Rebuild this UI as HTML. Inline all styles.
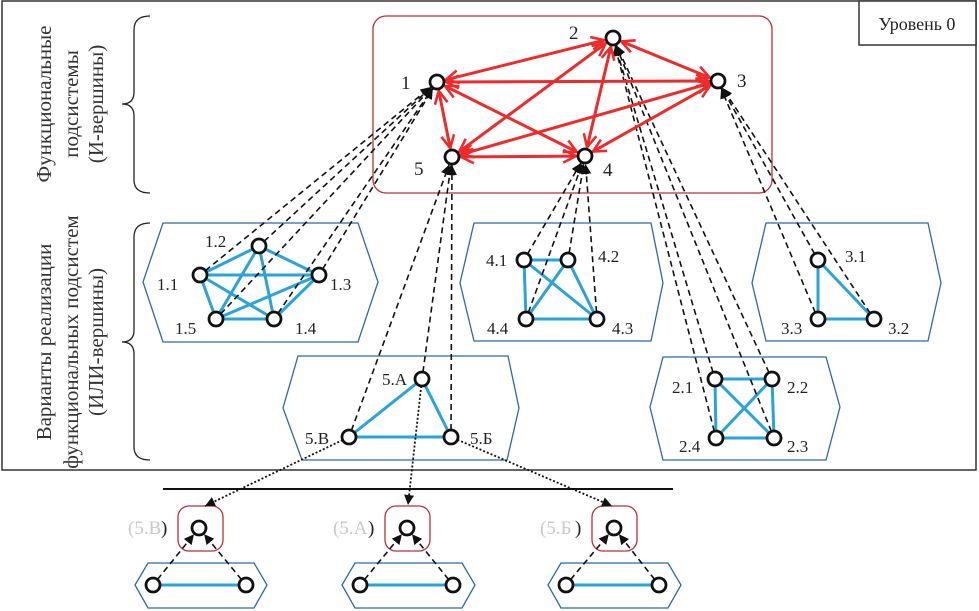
<!DOCTYPE html>
<html><head><meta charset="utf-8"><style>
html,body{margin:0;padding:0;background:#fff;}
svg{display:block;font-family:"Liberation Serif",serif;}
</style></head><body>
<svg id="s" width="979" height="611" viewBox="0 0 979 611" xmlns="http://www.w3.org/2000/svg">
<defs>
<marker id="ra" viewBox="0 0 14 14" refX="13" refY="7" markerWidth="15" markerHeight="15" markerUnits="userSpaceOnUse" orient="auto-start-reverse">
<path d="M1,1 L13,7 L1,13" fill="none" stroke="#ee2a2a" stroke-width="2.4"/></marker>
<marker id="ba" viewBox="0 0 10 10" refX="10" refY="5" markerWidth="10" markerHeight="10" markerUnits="userSpaceOnUse" orient="auto">
<path d="M0,0 L10,5 L0,10 z" fill="#111"/></marker>
</defs>
<rect x="2" y="1" width="974" height="469" fill="none" stroke="#333" stroke-width="1.5"/>
<rect x="859" y="1" width="117" height="44" fill="#fff" stroke="#333" stroke-width="1.5"/>
<text x="917" y="30" font-size="18" text-anchor="middle" fill="#222">Уровень 0</text>
<rect x="373" y="16" width="399" height="177" rx="13" fill="none" stroke="#b5313d" stroke-width="1.3"/>
<g fill="none" stroke="#2d68a8" stroke-width="1.3">
<polygon points="163,223 358,223 378,282 358,342 163,342 143,282"/>
<polygon points="474,223 651,223 663,283 651,341 474,341 460,283"/>
<polygon points="766,223 928,223 941,283 928,341 766,341 752,283"/>
<polygon points="663,357 826,357 840,407 826,460 663,460 650,407"/>
<polygon points="298,356 508,356 519,408 507,460 302,460 283,408"/>
<polygon points="148,563 254,563 267,585 254,608 148,608 135,585"/>
<polygon points="355,563 462,563 475,585 462,608 355,608 342,585"/>
<polygon points="561,563 668,563 681,585 668,608 561,608 548,585"/>
</g>
<g fill="none" stroke="#b5313d" stroke-width="1.3">
<rect x="178" y="506" width="45" height="45" rx="11"/>
<rect x="385" y="506" width="45" height="45" rx="11"/>
<rect x="592" y="506" width="45" height="45" rx="11"/>
</g>
<line x1="163" y1="489" x2="673" y2="489" stroke="#111" stroke-width="2"/>
<g fill="none" stroke="#222" stroke-width="1.3">
<path d="M150,16 Q134,16 134,30 L134,92 Q134,104 122,104 Q134,104 134,116 L134,180 Q134,193 150,193"/>
<path d="M150,223 Q134,223 134,237 L134,330 Q134,342 122,342 Q134,342 134,354 L134,447 Q134,460 150,460"/>
</g>
<g font-size="21" fill="#333" text-anchor="middle">
<text transform="translate(51,104) rotate(-90)">Функциональные</text>
<text transform="translate(78,104) rotate(-90)">подсистемы</text>
<text transform="translate(103,104) rotate(-90)">(И-вершины)</text>
<text transform="translate(51,342) rotate(-90)">Варианты реализации</text>
<text transform="translate(78,342) rotate(-90)">функциональных подсистем</text>
<text transform="translate(103,342) rotate(-90)">(ИЛИ-вершины)</text>
</g>
<g id="edges"></g>
<g id="nodes"></g>
<g font-size="19" fill="#222">
<text x="401" y="89">1</text><text x="569" y="39">2</text><text x="737" y="87">3</text>
<text x="603" y="176">4</text><text x="414" y="175">5</text>
</g>
<g font-size="17" fill="#222">
<text x="205" y="247">1.2</text><text x="157" y="290">1.1</text><text x="330" y="290">1.3</text>
<text x="295" y="334">1.4</text><text x="175" y="334">1.5</text>
<text x="486" y="266">4.1</text><text x="598" y="262">4.2</text><text x="612" y="334">4.3</text><text x="487" y="334">4.4</text>
<text x="845" y="262">3.1</text><text x="888" y="334">3.2</text><text x="781" y="334">3.3</text>
<text x="672" y="393">2.1</text><text x="787" y="393">2.2</text><text x="787" y="452">2.3</text><text x="679" y="452">2.4</text>
<text x="382" y="385">5.A</text><text x="470" y="444">5.Б</text><text x="305" y="444">5.В</text>
</g>
<g font-size="19" fill="#c8c8c8"><text x="128" y="534">(5.В</text><text x="333" y="534">(5.А</text><text x="540" y="534">(5.Б</text></g>
<g font-size="19" fill="#222"><text x="161" y="534">)</text><text x="368" y="534">)</text><text x="575" y="534">)</text></g>
</svg>
<script>
var NS="http://www.w3.org/2000/svg";
var E=document.getElementById("edges"),N=document.getElementById("nodes");
var R=7;
function ln(a,b,attrs,sa,sb){
 var dx=b[0]-a[0],dy=b[1]-a[1],d=Math.sqrt(dx*dx+dy*dy),ux=dx/d,uy=dy/d;
 var l=document.createElementNS(NS,"line");
 l.setAttribute("x1",a[0]+ux*(sa||0));l.setAttribute("y1",a[1]+uy*(sa||0));
 l.setAttribute("x2",b[0]-ux*(sb||0));l.setAttribute("y2",b[1]-uy*(sb||0));
 for(var k in attrs)l.setAttribute(k,attrs[k]);E.appendChild(l);}
function node(p){var c=document.createElementNS(NS,"circle");c.setAttribute("cx",p[0]);c.setAttribute("cy",p[1]);c.setAttribute("r",R);
 c.setAttribute("fill","#fff");c.setAttribute("stroke","#111");c.setAttribute("stroke-width","2.8");N.appendChild(c);}
var L={1:[437,82],2:[613,38],3:[718,81],4:[585,156],5:[452,157]};
var C={1:[[200,275],[259,246],[319,275],[274,319],[216,319]],
4:[[524,260],[568,260],[597,319],[526,319]],
3:[[818,260],[874,319],[818,319]],
2:[[715,379],[772,379],[774,438],[716,438]],
5:[[422,379],[451,437],[349,437]]};
var blue={stroke:"#2aa3d8","stroke-width":"3"};
for(var k in C){var a=C[k];for(var i=0;i<a.length;i++)for(var j=i+1;j<a.length;j++)ln(a[i],a[j],blue,0,0);}
var B=[[[199,528],[153,585],[246,585]],[[407,528],[360,585],[453,585]],[[614,528],[566,585],[659,585]]];
B.forEach(function(b){ln(b[1],b[2],blue,0,0);});
var dash={stroke:"#111","stroke-width":"1.6","stroke-dasharray":"6,4","marker-end":"url(#ba)"};
for(var k in C){C[k].forEach(function(p){ln(p,L[k],dash,R,R+1);});}
B.forEach(function(b){ln(b[1],b[0],dash,R,R+1);ln(b[2],b[0],dash,R,R+1);});
var red={stroke:"#ee2a2a","stroke-width":"3","marker-end":"url(#ra)","marker-start":"url(#ra)"};
var ks=[1,2,3,4,5];
for(var i=0;i<5;i++)for(var j=i+1;j<5;j++)ln(L[ks[i]],L[ks[j]],red,R+2,R+2);
var dot={stroke:"#111","stroke-width":"1.8","stroke-dasharray":"2,2","marker-end":"url(#ba)"};
ln([349,437],[205,506],dot,R,0);ln([422,379],[408,505],dot,R,0);ln([451,437],[612,506],dot,R,0);
for(var k in L)node(L[k]);for(var k in C)C[k].forEach(node);B.forEach(function(b){b.forEach(node);});
</script>
</body></html>
